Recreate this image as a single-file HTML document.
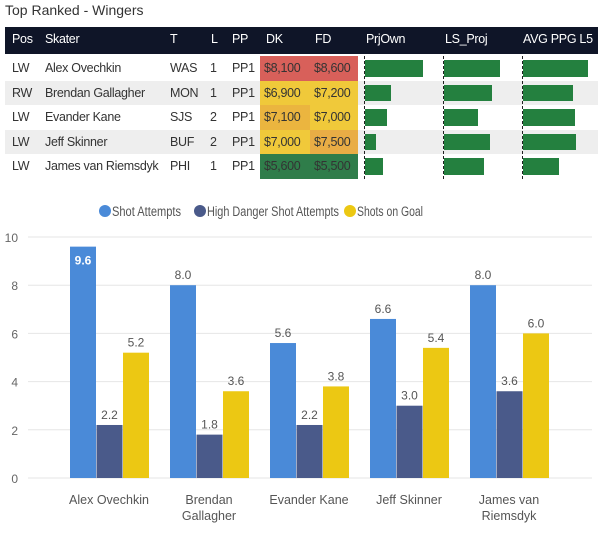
<!DOCTYPE html>
<html><head><meta charset="utf-8"><style>
body{margin:0;width:600px;height:541px;background:#fff;font-family:"Liberation Sans",sans-serif;overflow:hidden;position:relative}
.t{position:absolute;white-space:nowrap}
</style></head><body>
<div class="t" style="left:5px;top:2px;font-size:14px;color:#333">Top Ranked - Wingers</div>
<div id="tbl"></div>
<svg id="ch" width="600" height="541" style="position:absolute;left:0;top:0"></svg>
<script>
const skaters=["Alex Ovechkin","Brendan Gallagher","Evander Kane","Jeff Skinner","James van Riemsdyk"];
const pos=["LW","RW","LW","LW","LW"];
const teams=["WAS","MON","SJS","BUF","PHI"];
const lines=["1","1","2","2","1"];
const pps=["PP1","PP1","PP1","PP1","PP1"];
const dk=["$8,100","$6,900","$7,100","$7,000","$5,600"];
const fd=["$8,600","$7,200","$7,000","$7,500","$5,500"];
const dkColors=["#d8605a","#f0c93a","#ebb53f","#f0c93a","#2f7d4a"];
const fdColors=["#d8605a","#f0c93a","#f0c93a","#e9ad45","#2f7d4a"];
const prjOwn=[58,26,22,11,18];
const lsProj=[56,48,34,46,40];
const avgPpg=[65,50,52,53,36];
const categories=["Alex Ovechkin","Brendan\nGallagher","Evander Kane","Jeff Skinner","James van\nRiemsdyk"];
const shotAttempts=[9.6,8.0,5.6,6.6,8.0];
const highDanger=[2.2,1.8,2.2,3.0,3.6];
const shotsOnGoal=[5.2,3.6,3.8,5.4,6.0];
const yTicks=[0,2,4,6,8,10];

const tbl=document.getElementById('tbl');
function div(style,text,parent){const d=document.createElement('div');d.className='t';d.style.cssText=style;if(text!=null)d.textContent=text;(parent||tbl).appendChild(d);return d;}
let hd=div('left:5px;top:27px;width:593px;height:27px;background:#0f1528');


const heads=[["Pos",12],["Skater",45],["T",170],["L",211],["PP",232],["DK",266],["FD",315],["PrjOwn",366],["LS_Proj",445],["AVG PPG L5",523]];
heads.forEach(h=>{const e=div('left:'+h[1]+'px;top:32px;font-size:12.5px;letter-spacing:-0.3px;color:#fff',h[0]);

});
const rowTop=56,rh=24.5;
skaters.forEach((s,i)=>{
 const y=rowTop+i*rh;
 const r=div('left:5px;top:'+y+'px;width:593px;height:'+rh+'px;background:'+(i%2?'#eeeeee':'#fff'));
 
 
 const c1=div('left:260px;top:'+y+'px;width:50px;height:'+rh+'px;background:'+dkColors[i]);
 
 
 const c2=div('left:310px;top:'+y+'px;width:48px;height:'+rh+'px;background:'+fdColors[i]);
 
 
 const ty=y+5, st='font-size:12.5px;letter-spacing:-0.3px;color:#333;top:'+ty+'px;';
 [[pos[i],12],[s,45],[teams[i],170],[lines[i],210],[pps[i],232],[dk[i],264],[fd[i],314]].forEach(c=>{
  const e=div(st+'left:'+c[1]+'px',c[0]);
  
  
 });
 [[prjOwn,365],[lsProj,444],[avgPpg,523]].forEach(b=>{
  const e=div('left:'+b[1]+'px;top:'+(y+4)+'px;height:'+(rh-8)+'px;width:'+b[0][i]+'px;background:#24803f');
  
  
 });
});
[364,443,522].forEach(x=>{const e=div('left:'+x+'px;top:56px;height:123px;border-left:1px dashed #222');

});

const svg=document.getElementById('ch');const NS='http://www.w3.org/2000/svg';
function el(t,a,txt){const e=document.createElementNS(NS,t);for(const k in a)e.setAttribute(k,a[k]);if(txt!=null)e.textContent=txt;svg.appendChild(e);return e;}
const y0=478,ppu=24.1;const Y=v=>y0-v*ppu;
const gx=i=>70+i*100;const bw=26;
yTicks.forEach(t=>{
 const l=el('line',{x1:28,x2:592,y1:Y(t),y2:Y(t),stroke:'#e6e6e6'});
 
 
 const tx=el('text',{x:18,y:Y(t)+5,'text-anchor':'end','font-size':12,fill:'#666'},t);
 
 
});
const series=[[shotAttempts,'#4a8ad8'],[highDanger,'#4a5a8a'],[shotsOnGoal,'#ecc813']];
categories.forEach((c,i)=>{
 series.forEach((s,k)=>{
  const v=s[0][i],x=gx(i)+k*(bw+0.5);
  const r=el('rect',{x:x,y:Y(v),width:bw,height:v*ppu,fill:s[1]});
  
  
  const inside=v>=9;
  const lb=el('text',{x:x+bw/2,y:inside?Y(v)+18:Y(v)-6,'text-anchor':'middle','font-size':12,'font-weight':inside?'bold':'normal',fill:inside?'#fff':'#555'},v.toFixed(1));
  
  
 });
 c.split('\n').forEach((ln,j)=>{
  const t=el('text',{x:gx(i)+39,y:504+j*16,'text-anchor':'middle','font-size':12.5,fill:'#555'},ln);
  
  
 });
});
const leg=[["Shot Attempts",'#4a8ad8',105,69],["High Danger Shot Attempts",'#4a5a8a',200,132],["Shots on Goal",'#ecc813',350,66]];
leg.forEach(l=>{
 const c=el('circle',{cx:l[2],cy:211,r:6,fill:l[1]});
 
 
 const t=el('text',{x:l[2]+7,y:216,'font-size':13.5,fill:'#555',textLength:l[3],lengthAdjust:'spacingAndGlyphs'},l[0]);
 
 
});
</script>
</body></html>
